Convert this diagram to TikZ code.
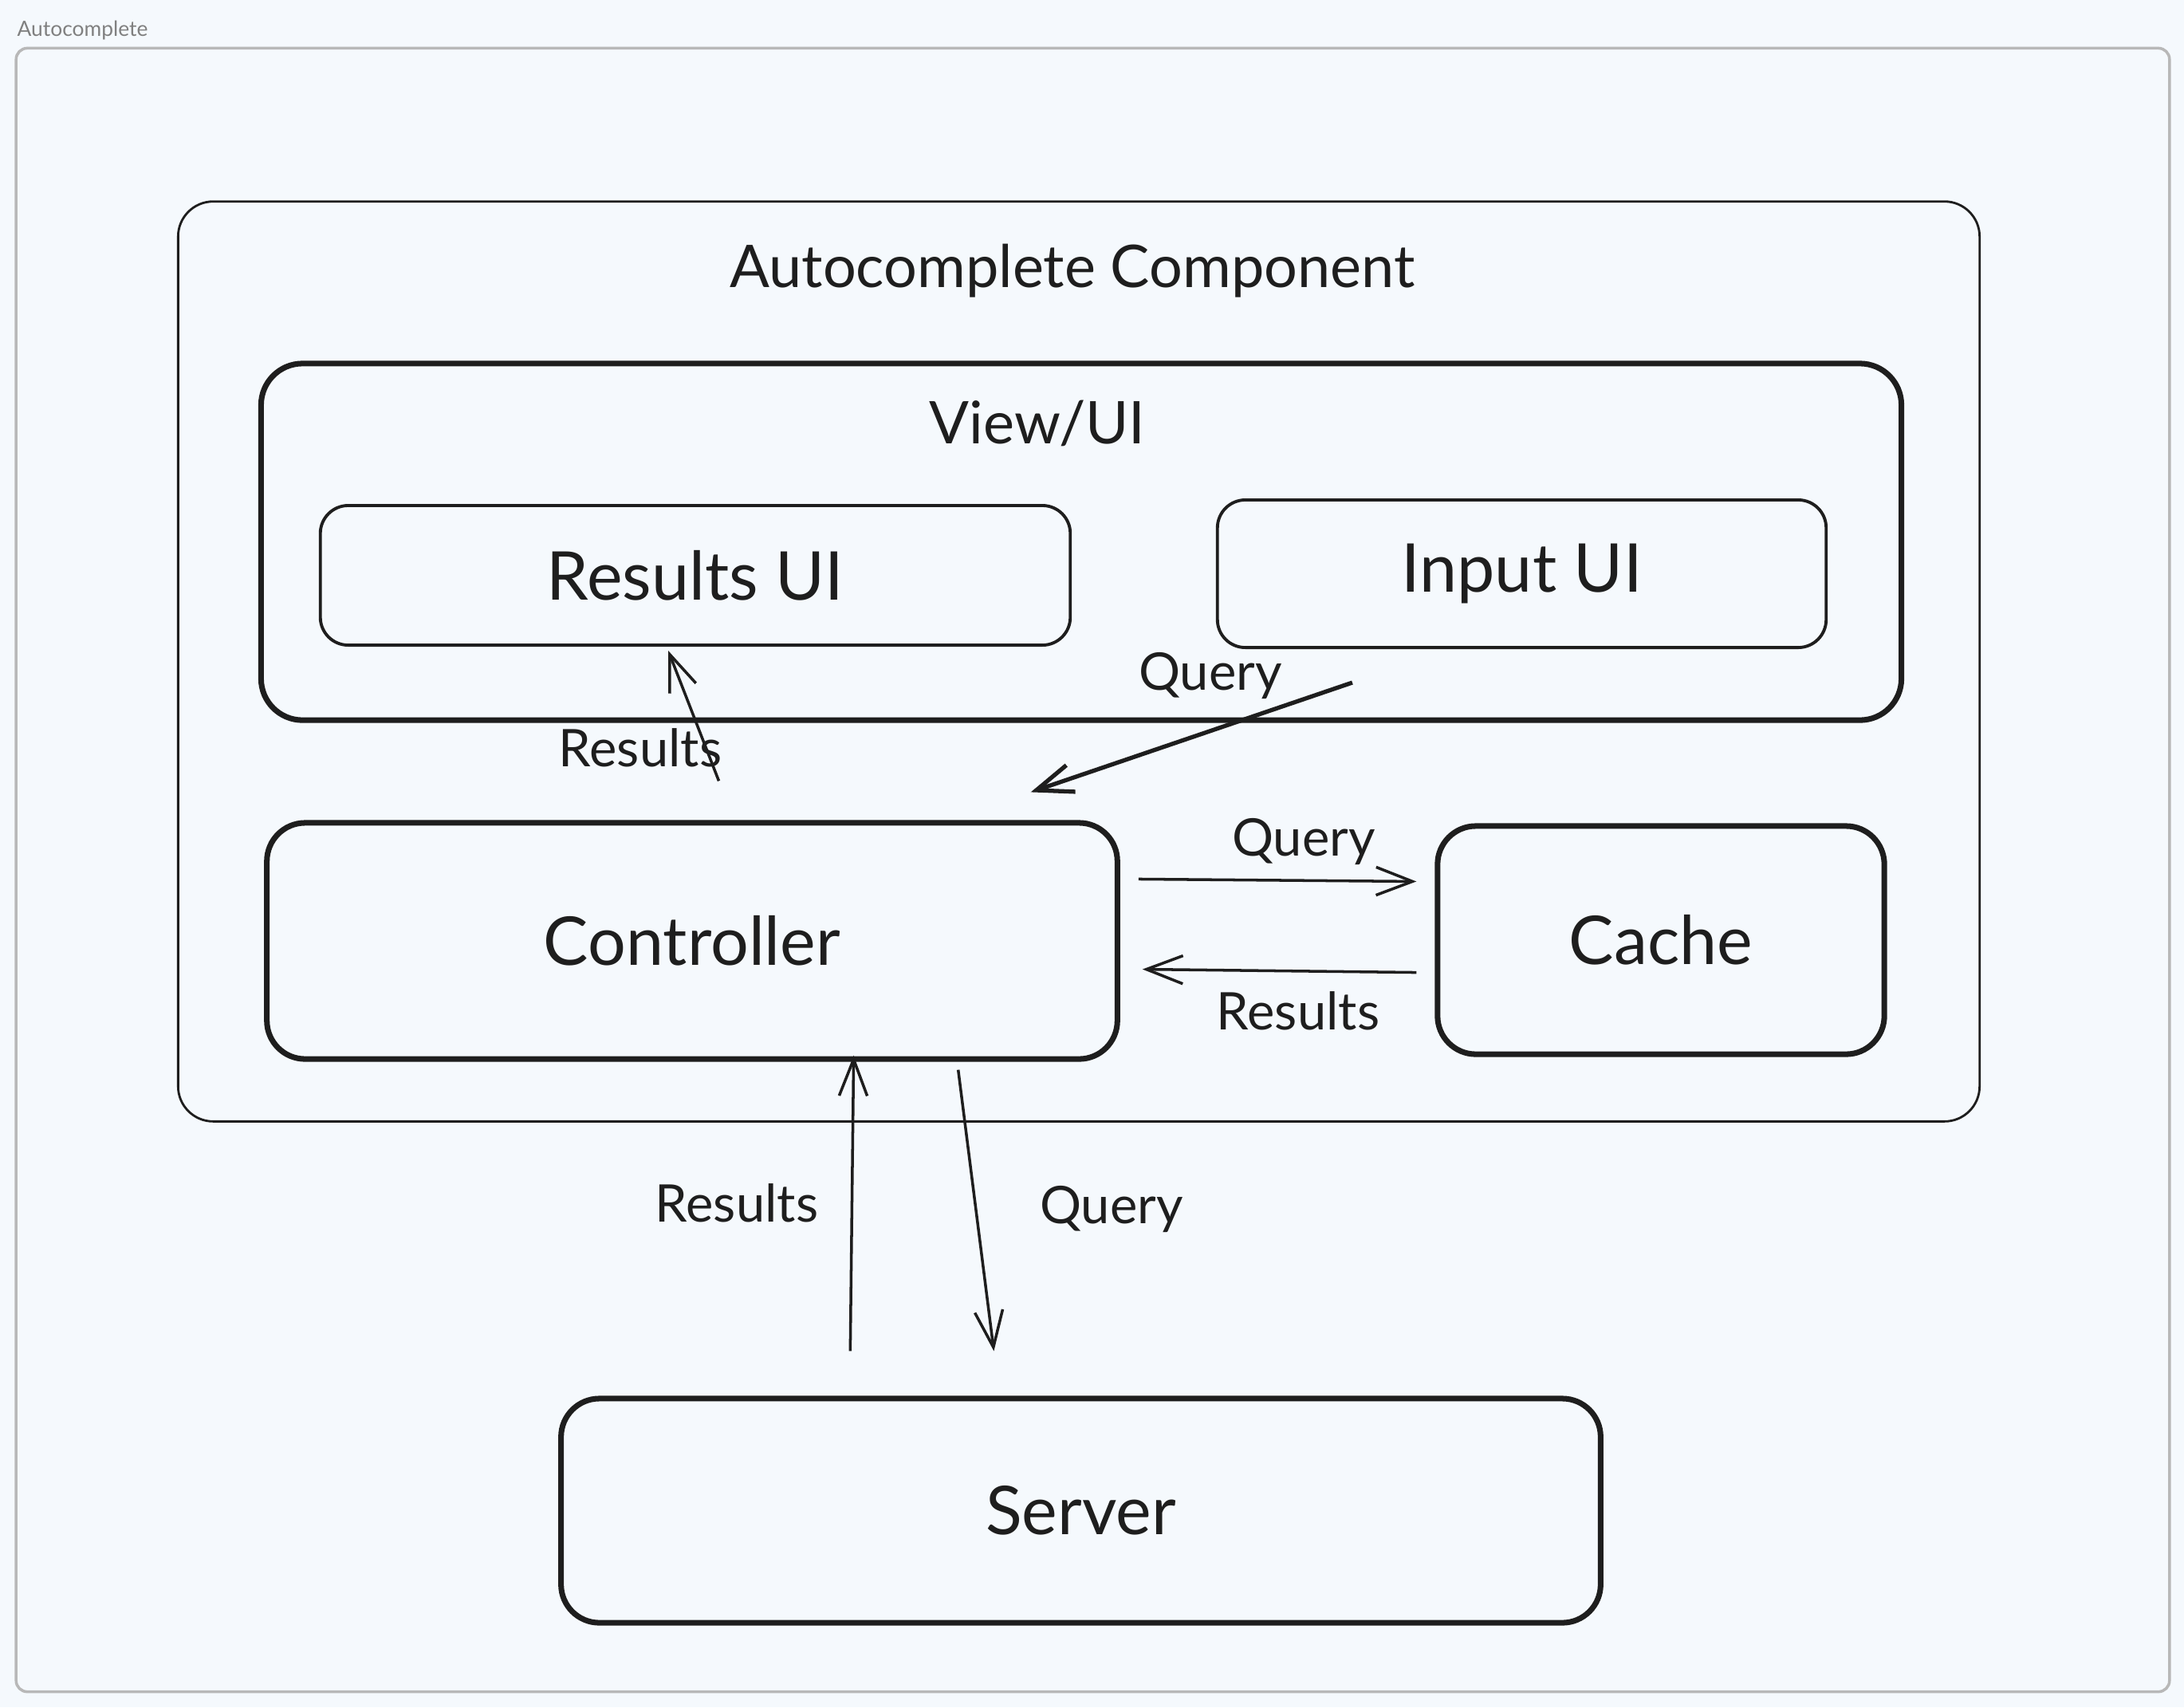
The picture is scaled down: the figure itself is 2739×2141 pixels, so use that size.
\documentclass[tikz,border=0pt]{standalone}
\usepackage{fontspec}
\setmainfont{Lato}
\usetikzlibrary{arrows.meta, positioning}
\definecolor{paper}{RGB}{245,249,253}
\definecolor{ink}{RGB}{30,30,30}
\definecolor{framegray}{RGB}{184,184,184}
\tikzset{
  sketchbox/.style={
    rectangle, rounded corners=#1,
    draw=ink, line width=2pt, text=ink,
    font=\fontsize{24}{28}\selectfont
  },
  sketchbox/.default=0.48cm,
  sketcharrow/.style={-{Straight Barb[length=13pt, width=10pt]}, draw=ink, line width=1pt},
  sketchlabel/.style={text=ink, inner sep=0pt, font=\fontsize{18.5}{22}\selectfont},
}

\begin{document}
\begin{tikzpicture}[x=0.01cm, y=-0.01cm]
  \fill[paper] (0,0) rectangle (2739,2141);
  \useasboundingbox (0,0) rectangle (2739,2141);

  % outer frame
  \node[sketchbox=0.14cm, draw=framegray, line width=1pt,
        minimum width=26.99cm, minimum height=20.60cm] (frame) at (1370.5,1091) {};
  \node[anchor=west, inner sep=0pt, text=gray, font=\fontsize{7.5}{9}\selectfont]
       (framelbl) at (21,38) {Autocomplete};

  % component and view
  \node[sketchbox=0.44cm, line width=0.8pt, minimum width=22.58cm, minimum height=11.53cm]
       (comp) at (1353,829.5) {};
  \node[sketchlabel, font=\fontsize{21}{25}\selectfont] (comptitle) at (1345,340) {Autocomplete Component};

  \node[sketchbox=0.52cm, minimum width=20.56cm, minimum height=4.47cm] (view) at (1356,679.5) {};
  \node[sketchlabel, font=\fontsize{21}{25}\selectfont] (viewtitle) at (1301,531) {View/UI};

  \node[sketchbox=0.35cm, line width=1.1pt, minimum width=9.40cm, minimum height=1.75cm]
       (resui) at (872,721.5) {Results UI};
  \node[sketchbox=0.35cm, line width=1.1pt, minimum width=7.63cm, minimum height=1.85cm]
       (inui) at (1908.5,719.5) {Input UI};

  \node[sketchbox, minimum width=10.66cm, minimum height=2.96cm] (ctrl) at (868,1180) {Controller};
  \node[sketchbox, minimum width=5.60cm, minimum height=2.86cm] (cache) at (2083,1179) {Cache};
  \node[sketchbox, minimum width=13.03cm, minimum height=2.81cm] (server) at (1355.5,1894.5) {Server};

  % connectors
  \draw[sketcharrow] ([xshift=5.70cm,yshift=0.49cm]ctrl.north west)
                  -- ([xshift=4.38cm,yshift=-0.05cm]resui.south west);
  \draw[sketcharrow, line width=1.5pt] ([xshift=1.71cm,yshift=-0.42cm]inui.south west)
                  -- ([xshift=9.61cm,yshift=0.35cm]ctrl.north west);
  \draw[sketcharrow] ([xshift=0.23cm,yshift=-0.74cm]ctrl.north east)
                  -- ([xshift=-0.23cm,yshift=-0.73cm]cache.north west);
  \draw[sketcharrow] ([xshift=-0.23cm,yshift=1.06cm]cache.south west)
                  -- ([xshift=0.28cm,yshift=1.16cm]ctrl.south east);
  \draw[sketcharrow] ([xshift=3.66cm,yshift=0.56cm]server.north west)
                  -- ([xshift=7.39cm,yshift=0.08cm]ctrl.south west);
  \draw[sketcharrow] ([xshift=8.70cm,yshift=-0.10cm]ctrl.south west)
                  -- ([xshift=5.46cm,yshift=0.56cm]server.north west);

  % labels
  \node[sketchlabel] (lblres1) at (803,938)  {Results};
  \node[sketchlabel] (lblqry1) at (1518,847) {Query};
  \node[sketchlabel] (lblqry2) at (1635,1055) {Query};
  \node[sketchlabel] (lblres2) at (1628,1268) {Results};
  \node[sketchlabel] (lblres3) at (924,1509) {Results};
  \node[sketchlabel] (lblqry3) at (1394,1516) {Query};
\end{tikzpicture}
\end{document}
